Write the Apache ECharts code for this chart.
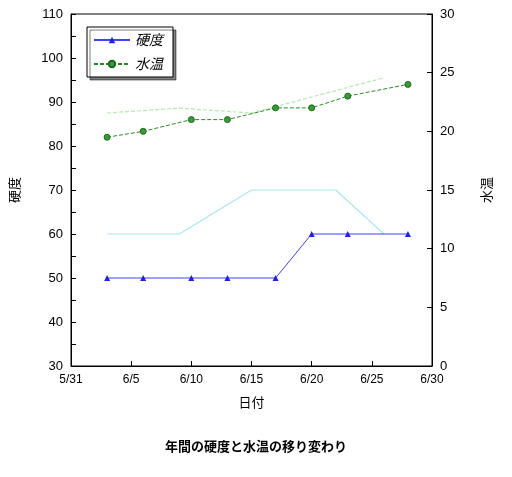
<!DOCTYPE html><html><head><meta charset="utf-8"><script src="https://cdn.jsdelivr.net/npm/echarts@6/dist/echarts.min.js"></script></head><body style="margin:0;background:#fff"><div id="c" style="width:512px;height:477px"></div><script>
const hardDays=[3,6,10,13,17,20,23,28];
const hardVals=[50,50,50,50,50,60,60,60];
const tempDays=[3,6,10,13,17,20,23,28];
const tempVals=[19.5,20,21,21,22,22,23,24];
const lightGreenDays=[3,9,15,26];
const lightGreenVals=[87.5,88.6,87.5,95.5];
const cyanDays=[3,9,15,22,26];
const cyanVals=[60,60,70,70,60];
const xLabels={0:'5/31',5:'6/5',10:'6/10',15:'6/15',20:'6/20',25:'6/25',30:'6/30'};
const zip=(a,b)=>a.map((v,i)=>[v,b[i]]);
const f='"Noto Sans CJK JP"';
const ch=echarts.init(document.getElementById('c'));
ch.setOption({animation:false,
title:{text:'年間の硬度と水温の移り変わり',left:'center',top:435,textStyle:{fontSize:13,fontWeight:'bold',fontFamily:f,color:'#000'}},
grid:{left:70,right:80,top:14,bottom:111,show:true,borderColor:'#000',borderWidth:1,backgroundColor:'transparent'},
legend:{orient:'vertical',left:87,top:27,width:78,padding:[6,10,6,6],itemGap:10,backgroundColor:'#fff',borderColor:'#000',borderWidth:1,shadowColor:'rgba(0,0,0,0.5)',shadowOffsetX:3,shadowOffsetY:3,shadowBlur:0,
 data:['硬度','水温'],itemWidth:36,itemHeight:8,textStyle:{fontStyle:'italic',fontSize:14,fontFamily:f,color:'#000'}},
xAxis:{type:'value',min:0,max:30,interval:5,name:'日付',nameLocation:'middle',nameGap:30,nameTextStyle:{fontFamily:f,fontSize:13,color:'#000'},
 axisLine:{lineStyle:{color:'#000'}},axisTick:{inside:true,length:5,lineStyle:{color:'#000'}},splitLine:{show:false},
 axisLabel:{color:'#000',fontSize:12,formatter:v=>xLabels[v]||''}},
yAxis:[{type:'value',min:30,max:110,interval:10,name:'硬度',nameLocation:'middle',nameGap:50,nameRotate:90,nameTextStyle:{fontFamily:f,fontSize:13,color:'#000'},
 axisLine:{show:true,lineStyle:{color:'#000'}},axisTick:{inside:true,length:5,lineStyle:{color:'#000'}},minorTick:{show:true,splitNumber:2,length:5,lineStyle:{color:'#000'}},splitLine:{show:false},axisLabel:{color:'#000',fontSize:13}},
{type:'value',min:0,max:30,interval:5,name:'水温',nameLocation:'middle',nameGap:48,nameRotate:90,nameTextStyle:{fontFamily:f,fontSize:13,color:'#000'},
 axisLine:{show:true,lineStyle:{color:'#000'}},axisTick:{inside:true,length:5,lineStyle:{color:'#000'}},splitLine:{show:false},axisLabel:{color:'#000',fontSize:13}}],
series:[
{name:'light',type:'line',data:zip(lightGreenDays,lightGreenVals),symbol:'none',lineStyle:{color:'#b8e8b0',width:1.2,type:[4,2]},silent:true},
{name:'cyan',type:'line',data:zip(cyanDays,cyanVals),symbol:'none',lineStyle:{color:'#a8e8f0',width:1.2},silent:true},
{name:'硬度',type:'line',data:zip(hardDays,hardVals),symbol:'triangle',symbolSize:6,itemStyle:{color:'#2020e0'},lineStyle:{color:'#4040ff',width:1}},
{name:'水温',type:'line',yAxisIndex:1,data:zip(tempDays,tempVals),symbol:'circle',symbolSize:6,itemStyle:{color:'#3a9a3a',borderColor:'#1a6a1a',borderWidth:1},lineStyle:{color:'#2a8a2a',width:1,type:[4,2]}}
]});
</script></body></html>
